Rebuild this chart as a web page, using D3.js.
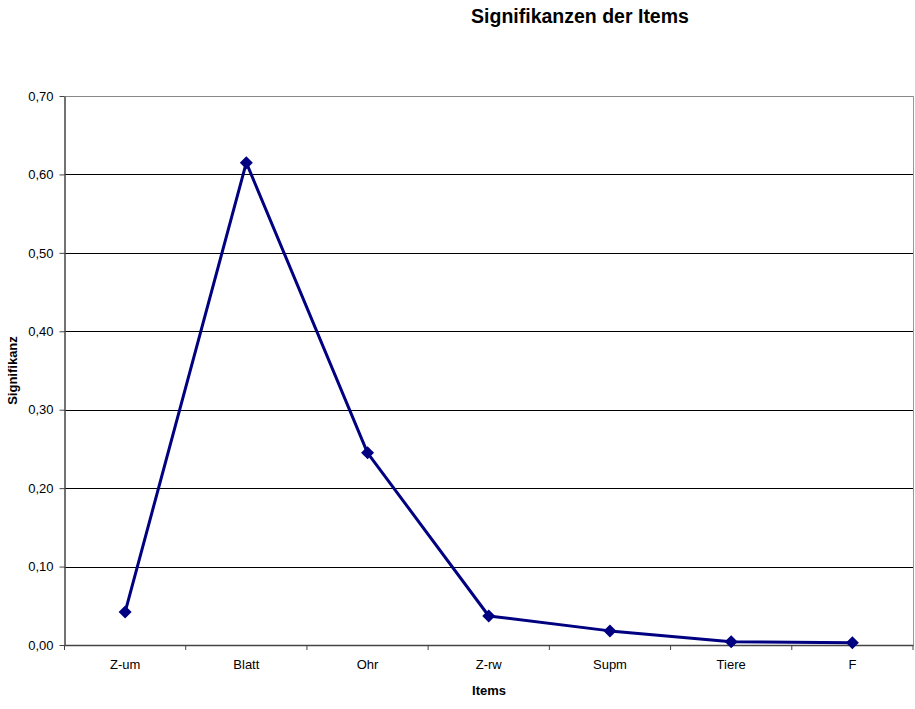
<!DOCTYPE html>
<html>
<head>
<meta charset="utf-8">
<script src="https://cdn.jsdelivr.net/npm/d3@7"></script>
<style>
  body { margin: 0; background: #fff; }
  text { font-family: "Liberation Sans", Arial, sans-serif; fill: #000; }
</style>
</head>
<body>
<div id="chart"></div>
<script>
// data
const items = ["Z-um", "Blatt", "Ohr", "Z-rw", "Supm", "Tiere", "F"];
const signif = [0.042, 0.615, 0.245, 0.037, 0.018, 0.004, 0.003];
const yTicks = [0, 0.1, 0.2, 0.3, 0.4, 0.5, 0.6, 0.7];

const width = 915, height = 709,
  margin = { top: 96, bottom: 64, left: 64.5, right: 2 };

const svg = d3.select("#chart").append("svg")
  .attr("width", width).attr("height", height);

const x = d3.scaleBand().domain(items)
  .range([margin.left, width - margin.right]);
const y = d3.scaleLinear().domain([0, 0.7])
  .range([height - margin.bottom, margin.top]);

const fmt = d => d3.format(".2f")(d).replace(".", ",");

// gridlines
svg.append("g").selectAll("line")
  .data(yTicks.slice(1))
  .join("line")
  .attr("x1", margin.left).attr("x2", width - margin.right)
  .attr("y1", d => Math.round(y(d)) + 0.5).attr("y2", d => Math.round(y(d)) + 0.5)
  .attr("stroke", (d, i, n) => i === n.length - 1 ? "#888" : "#000")
  .attr("stroke-width", 1);

// right border
svg.append("line")
  .attr("x1", width - margin.right + 0.5).attr("x2", width - margin.right + 0.5)
  .attr("y1", y(0.7)).attr("y2", y(0))
  .attr("stroke", "#999");

// y axis
const yAxis = svg.append("g")
  .attr("transform", `translate(${margin.left},0)`)
  .call(d3.axisLeft(y).tickValues(yTicks).tickFormat(fmt).tickSize(5).tickPadding(6).tickSizeOuter(0));
yAxis.select(".domain").attr("stroke", "#444").attr("stroke-width", 1.5);
yAxis.selectAll(".tick line").attr("stroke", "#444");
yAxis.selectAll("text").style("font-size", "13px").attr("fill", "#000");

// x axis
const xAxis = svg.append("g")
  .attr("transform", `translate(0,${y(0)})`)
  .call(d3.axisBottom(x).tickSize(0).tickPadding(15));
xAxis.select(".domain").attr("stroke", "#444").attr("stroke-width", 1.5);
xAxis.selectAll("text").style("font-size", "13px").attr("fill", "#000");
// tick marks between categories
svg.append("g").selectAll("line")
  .data(items.concat(["end"]))
  .join("line")
  .attr("x1", (d, i) => margin.left + i * x.step())
  .attr("x2", (d, i) => margin.left + i * x.step())
  .attr("y1", y(0)).attr("y2", y(0) + 5)
  .attr("stroke", "#444");

// line
const line = d3.line()
  .x((d, i) => x(items[i]) + x.bandwidth() / 2)
  .y(d => y(d));
svg.append("path")
  .datum(signif)
  .attr("d", line)
  .attr("fill", "none")
  .attr("stroke", "#000080")
  .attr("stroke-width", 3)
  .attr("stroke-linejoin", "round");

// markers
svg.append("g").selectAll("path")
  .data(signif)
  .join("path")
  .attr("transform", (d, i) => `translate(${x(items[i]) + x.bandwidth() / 2},${y(d)})`)
  .attr("d", "M0,-6.5L6.5,0L0,6.5L-6.5,0Z")
  .attr("fill", "#000080");

// title & axis labels
svg.append("text")
  .attr("x", 580).attr("y", 23)
  .attr("text-anchor", "middle")
  .style("font-size", "19.5px").style("font-weight", "bold")
  .text("Signifikanzen der Items");
svg.append("text")
  .attr("x", 489).attr("y", 695)
  .attr("text-anchor", "middle")
  .style("font-size", "13px").style("font-weight", "bold")
  .text("Items");
svg.append("text")
  .attr("transform", `translate(17,${(y(0) + y(0.7)) / 2}) rotate(-90)`)
  .attr("text-anchor", "middle")
  .style("font-size", "13px").style("font-weight", "bold")
  .text("Signifikanz");
</script>
</body>
</html>
